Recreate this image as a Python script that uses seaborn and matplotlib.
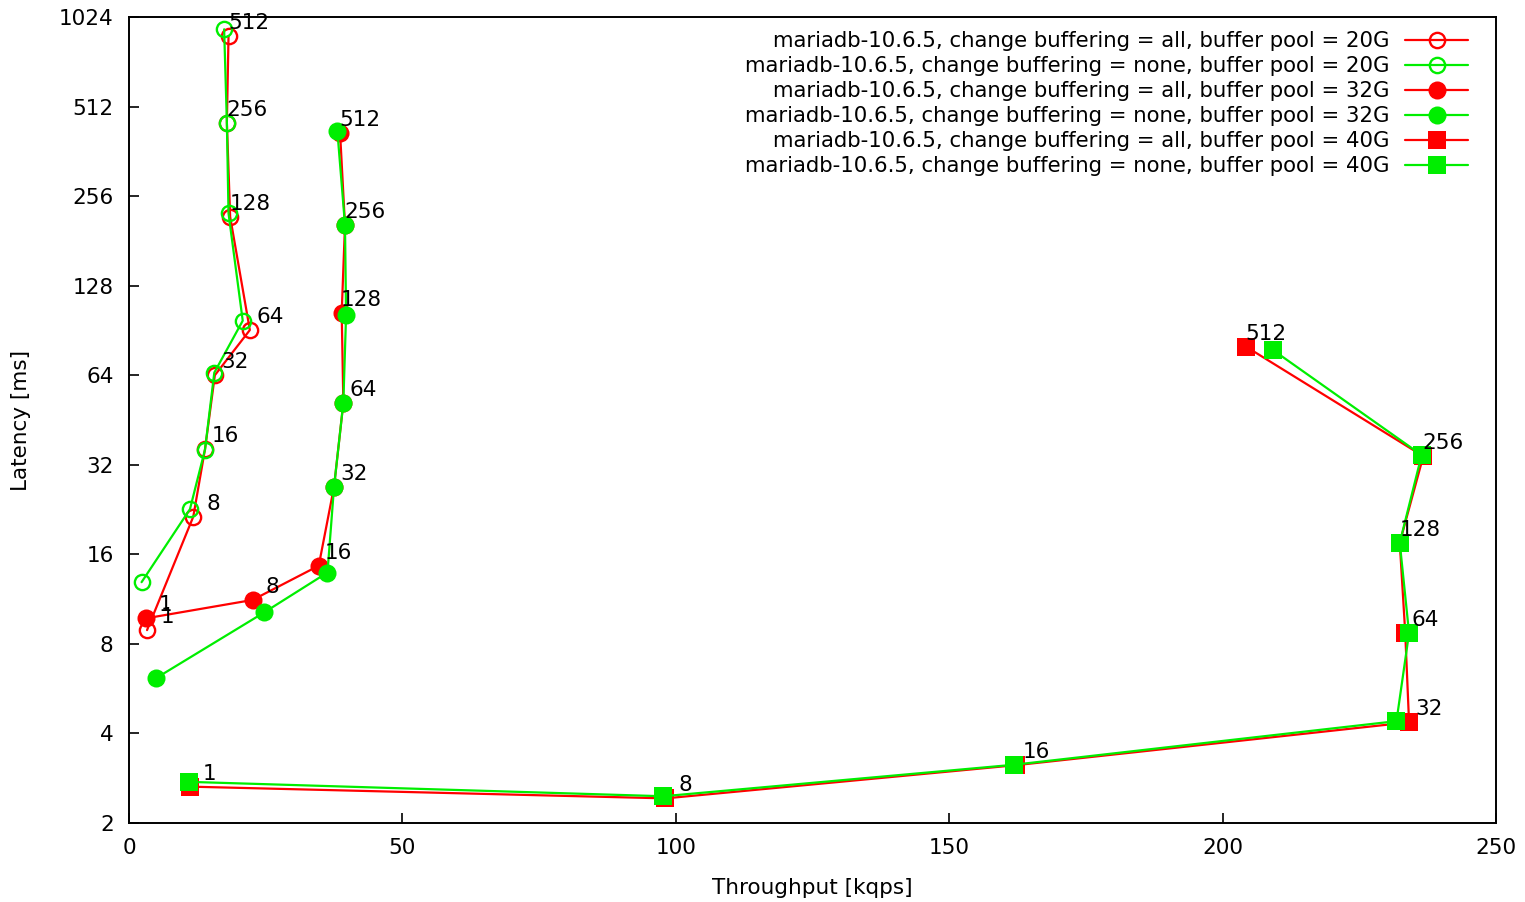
import numpy as np
import pandas as pd
import matplotlib
matplotlib.use("Agg")
import matplotlib.pyplot as plt
import seaborn as sns

# concurrency level labels on each point
conc = [1, 8, 16, 32, 64, 128, 256, 512]

# throughput [kqps] / latency [ms] per config
tput_20g_all = [3.3, 11.75, 13.9, 15.7, 22.1, 18.5, 17.9, 18.2]
lat_20g_all = [8.9, 21.4, 36.1, 64.0, 90.8, 218, 452, 884]
tput_20g_none = [2.3, 11.15, 13.9, 15.6, 20.8, 18.2, 17.9, 17.4]
lat_20g_none = [12.9, 22.7, 36.0, 65.3, 97.6, 224, 452, 931]
tput_32g_all = [3.1, 22.6, 34.7, 37.5, 39.2, 38.9, 39.5, 38.6]
lat_32g_all = [9.75, 11.24, 14.65, 27.0, 51.7, 103.8, 204.7, 418]
tput_32g_none = [4.9, 24.7, 36.3, 37.5, 39.2, 39.7, 39.5, 38.1]
lat_32g_none = [6.13, 10.2, 13.9, 27.0, 51.7, 102, 205, 425]
tput_40g_all = [11.1, 98.1, 162.3, 234.1, 233.4, 232.4, 236.7, 204.3]
lat_40g_all = [2.65, 2.42, 3.13, 4.36, 8.72, 17.5, 34.2, 79.8]
tput_40g_none = [10.95, 97.7, 161.9, 231.8, 234.1, 232.4, 236.4, 209.2]
lat_40g_none = [2.75, 2.46, 3.14, 4.40, 8.7, 17.5, 34.5, 77.8]

ytick_vals = [2, 4, 8, 16, 32, 64, 128, 256, 512, 1024]

RED = "#ff0000"
GREEN = "#00ee00"
FS = 15.5

sns.set_style("white")
plt.rcParams["font.family"] = ["DejaVu Sans"]
plt.rcParams["text.color"] = "black"
plt.rcParams["axes.labelcolor"] = "black"
plt.rcParams["xtick.color"] = "black"
plt.rcParams["ytick.color"] = "black"

fig = plt.figure(figsize=(15.25, 9.02), dpi=100)
ax = fig.add_axes([129 / 1525, 1 - 823 / 902, (1496 - 129) / 1525, (823 - 17) / 902])

series = [
    ("all", "20G", tput_20g_all, lat_20g_all, RED, "o", False),
    ("none", "20G", tput_20g_none, lat_20g_none, GREEN, "o", False),
    ("all", "32G", tput_32g_all, lat_32g_all, RED, "o", True),
    ("none", "32G", tput_32g_none, lat_32g_none, GREEN, "o", True),
    ("all", "40G", tput_40g_all, lat_40g_all, RED, "s", True),
    ("none", "40G", tput_40g_none, lat_40g_none, GREEN, "s", True),
]

for cb, pool, xs, ys, col, mk, filled in series:
    df = pd.DataFrame({"x": xs, "y": ys})
    label = f"mariadb-10.6.5, change buffering = {cb}, buffer pool = {pool}"
    if filled:
        kw = dict(markersize=13, markerfacecolor=col, markeredgewidth=0)
    else:
        kw = dict(markersize=11, markerfacecolor="none", markeredgecolor=col,
                  markeredgewidth=1.7)
    sns.lineplot(data=df, x="x", y="y", sort=False, estimator=None, ax=ax,
                 color=col, linewidth=1.6, marker=mk, label=label, **kw)
    # gnuplot-style point labels on the "all" runs
    if cb == "all":
        for c, x, y in zip(conc, xs, ys):
            ax.annotate(str(c), (x, y), xytext=(14.4, 9.4), textcoords="offset points",
                        ha="center", va="center", fontsize=FS)

ax.set_yscale("log", base=2)
ax.set_ylim(2, 1024)
ax.set_xlim(0, 250)
ax.set_yticks(ytick_vals)
ax.set_yticklabels([str(v) for v in ytick_vals])
ax.yaxis.set_minor_locator(matplotlib.ticker.NullLocator())
ax.set_xticks([0, 50, 100, 150, 200, 250])

ax.tick_params(direction="in", length=7, width=1.2, labelsize=FS, pad=11,
               top=False, right=False, left=True, bottom=True)
for s in ax.spines.values():
    s.set_linewidth(1.4)
    s.set_color("black")

ax.set_xlabel("Throughput [kqps]", fontsize=FS, labelpad=14)
ax.set_ylabel("Latency [ms]", fontsize=FS, labelpad=20)

leg = ax.legend(loc="upper right", bbox_to_anchor=(0.9795, 0.9826),
                frameon=False, markerfirst=False, fontsize=15.3, handlelength=2.95,
                handletextpad=0.72, labelspacing=0.235, borderpad=0, borderaxespad=0)

fig.savefig("out.png", dpi=100)
